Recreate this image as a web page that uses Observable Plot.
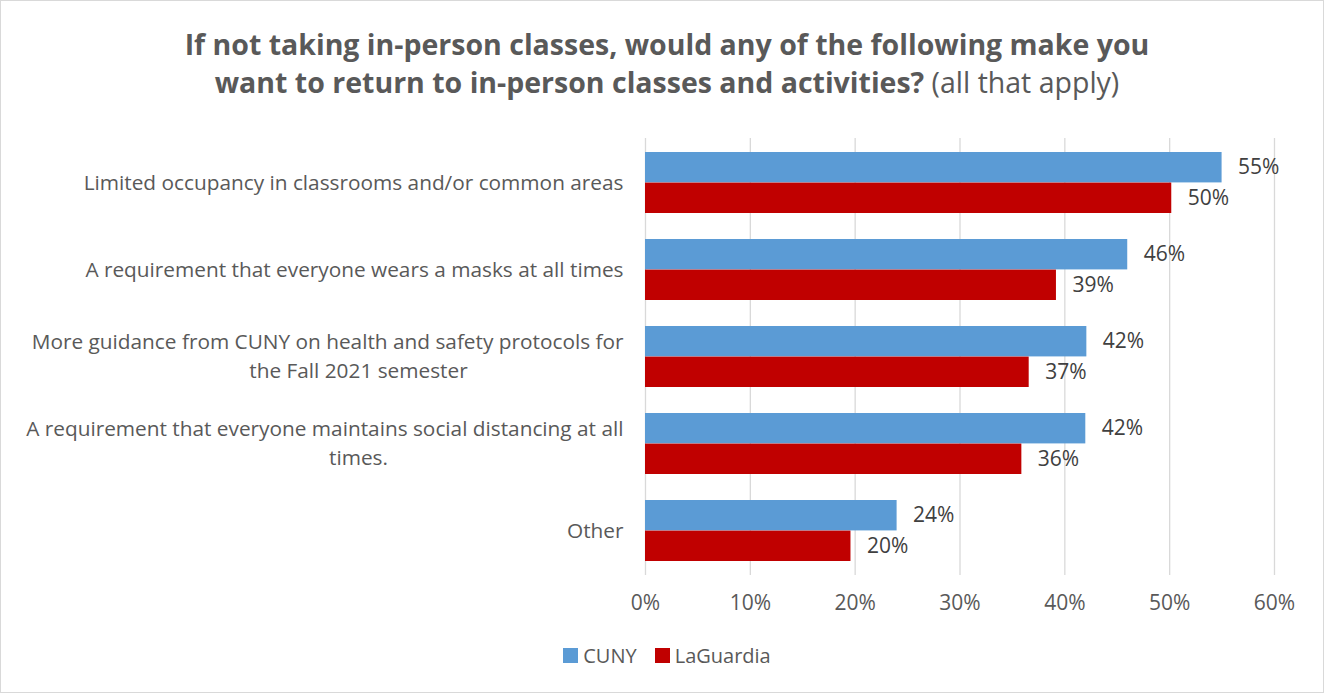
<!DOCTYPE html>
<html>
<head>
<meta charset="utf-8">
<script src="https://cdn.jsdelivr.net/npm/d3@7"></script>
<script src="https://cdn.jsdelivr.net/npm/@observablehq/plot@0.6"></script>
<style>
  html, body { margin: 0; padding: 0; background: #fff; }
  #chart { position: relative; width: 1322px; height: 691px; border: 1px solid #d9d9d9; font-family: "Open Sans", sans-serif; overflow: hidden; }
  #title { position: absolute; left: 0; width: 1332px; top: 24px; text-align: center; color: #595959; font-size: 28.5px; line-height: 38px; }
  #title b { font-weight: 700; }
  #plot { position: absolute; left: 0; top: 0; }
  #legend { position: absolute; left: 0; width: 1332px; top: 641px; text-align: center; color: #595959; font-size: 20px; }
  #legend span.item { display: inline-flex; align-items: center; margin: 0 9px; }
  #legend span.sw { display: inline-block; width: 15px; height: 15px; margin-right: 5px; }
</style>
</head>
<body>
<div id="chart">
  <div id="plot"></div>
  <div id="title"><b>If not taking in-person classes, would any of the following make you<br>want to return to in-person classes and activities?</b> (all that apply)</div>
  <div id="legend"></div>
</div>
<script>
const categories = [
  "Limited occupancy in classrooms and/or common areas",
  "A requirement that everyone wears a masks at all times",
  "More guidance from CUNY on health and safety protocols for the Fall 2021 semester",
  "A requirement that everyone maintains social distancing at all times.",
  "Other"
];
const labelLine1 = [
  "Limited occupancy in classrooms and/or common areas",
  "A requirement that everyone wears a masks at all times",
  "More guidance from CUNY on health and safety protocols for",
  "A requirement that everyone maintains social distancing at all",
  "Other"
];
const labelLine2 = ["", "", "the Fall 2021 semester", "times.", ""];
const seriesNames = ["CUNY", "LaGuardia"];
const seriesColors = ["#5b9bd5", "#c00000"];
const cunyValues = [0.55, 0.46, 0.421, 0.42, 0.24];
const laguardiaValues = [0.502, 0.392, 0.366, 0.359, 0.196];
const xTicks = [0, 0.1, 0.2, 0.3, 0.4, 0.5, 0.6];

const cuny = categories.map((c, i) => ({category: c, series: "CUNY", value: cunyValues[i]}));
const lag = categories.map((c, i) => ({category: c, series: "LaGuardia", value: laguardiaValues[i]}));
const labels = categories.map((c, i) => ({category: c, l1: labelLine1[i], l2: labelLine2[i]}));
const singleLabels = labels.filter(d => d.l2 === "");
const doubleLabels = labels.filter(d => d.l2 !== "");

const W = 1322, H = 691;
const mTop = 137, mBottom = H - 574, mLeft = 644, mRight = W - 1273;
const pInner = 0.3, pOuter = 0.15;
const plotH = H - mTop - mBottom;
const step = plotH / (categories.length - pInner + 2 * pOuter);
const bw = step * (1 - pInner);
const half = bw / 2;
const fmt = d3.format(".0%");

const chart = Plot.plot({
  width: W,
  height: H,
  marginTop: mTop,
  marginBottom: mBottom,
  marginLeft: mLeft,
  marginRight: mRight,
  style: {fontFamily: "Open Sans, sans-serif", fontSize: "21px", color: "#595959", background: "transparent"},
  x: {domain: [0, 0.6], ticks: xTicks, tickFormat: fmt, tickSize: 0, tickPadding: 20, label: null},
  y: {domain: categories, paddingInner: pInner, paddingOuter: pOuter, axis: null, label: null},
  color: {domain: seriesNames, range: seriesColors},
  marks: [
    Plot.ruleX(xTicks, {stroke: "#d9d9d9", strokeWidth: 1.3}),
    Plot.barX(cuny, {x: "value", y: "category", fill: "series", insetBottom: half}),
    Plot.barX(lag, {x: "value", y: "category", fill: "series", insetTop: half}),
    Plot.text(cuny, {x: "value", y: "category", text: d => fmt(d.value), dx: 16, dy: -half / 2, textAnchor: "start", fill: "#404040", fontSize: 21}),
    Plot.text(lag, {x: "value", y: "category", text: d => fmt(d.value), dx: 16, dy: half / 2, textAnchor: "start", fill: "#404040", fontSize: 21}),
    Plot.text(singleLabels, {y: "category", text: "l1", frameAnchor: "left", dx: -22, textAnchor: "end", fill: "#595959", fontSize: 20.8}),
    Plot.text(doubleLabels, {y: "category", text: "l1", frameAnchor: "left", dx: -22, dy: -14.5, textAnchor: "end", fill: "#595959", fontSize: 20.8}),
    Plot.text(doubleLabels, {y: "category", text: "l2", frameAnchor: "left", dx: -287, dy: 14.5, textAnchor: "middle", fill: "#595959", fontSize: 20.8})
  ]
});
document.getElementById("plot").appendChild(chart);

const legend = document.getElementById("legend");
seriesNames.forEach((s, i) => {
  const item = document.createElement("span");
  item.className = "item";
  const sw = document.createElement("span");
  sw.className = "sw";
  sw.style.background = seriesColors[i];
  item.appendChild(sw);
  item.appendChild(document.createTextNode(s));
  legend.appendChild(item);
});
</script>
</body>
</html>
